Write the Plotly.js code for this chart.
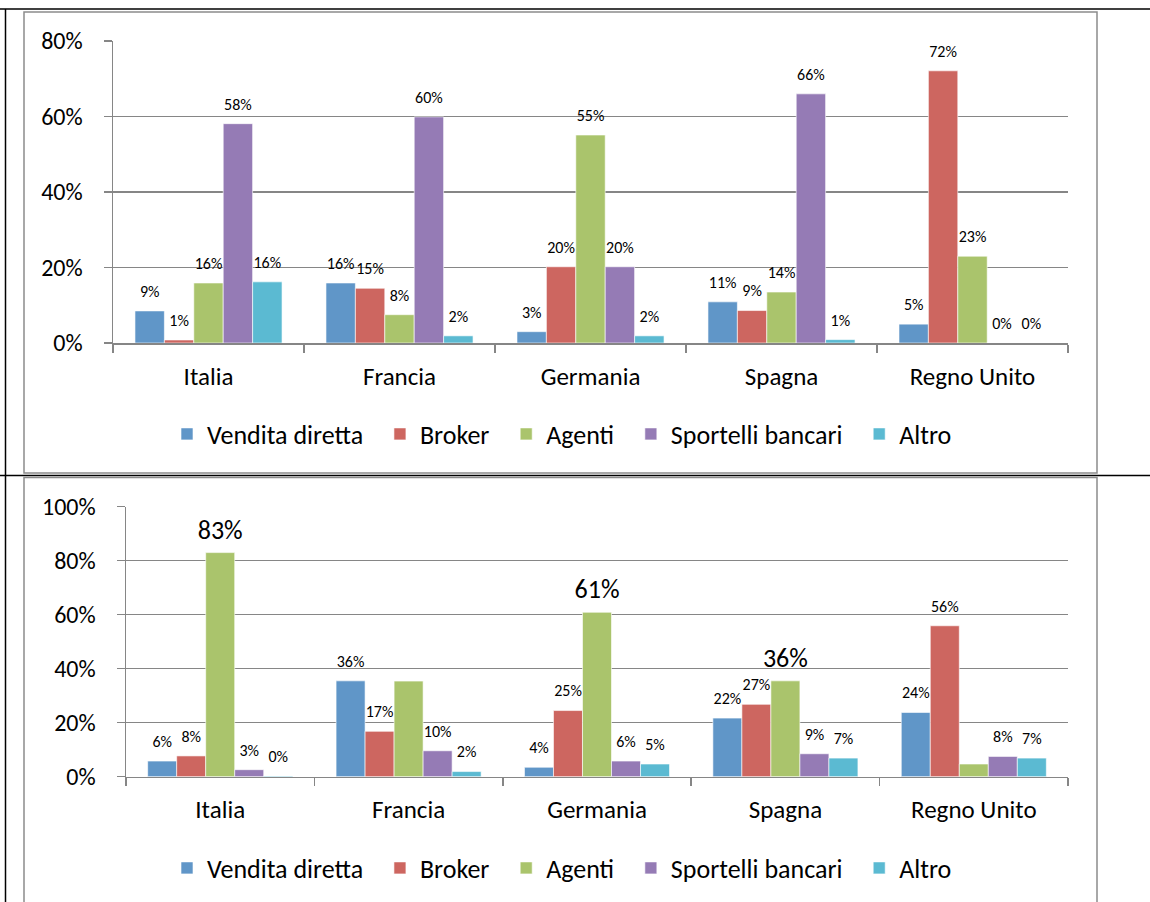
<!DOCTYPE html>
<html>
<head>
<meta charset="utf-8">
<script src="https://cdn.plot.ly/plotly-3.0.1.min.js"></script>
<style>
  html, body { margin: 0; padding: 0; background: #fff; }
  #chart { width: 1150px; height: 902px; }
</style>
</head>
<body>
<div id="chart"></div>
<script>
// ---------- DATA ----------
const categories = ["Italia", "Francia", "Germania", "Spagna", "Regno Unito"];
const seriesNames = ["Vendita diretta", "Broker", "Agenti", "Sportelli bancari", "Altro"];

// Top chart (%)
const top_vendita   = [8.5, 15.9, 3.0, 10.9, 5.0];
const top_broker    = [0.8, 14.5, 20.2, 8.6, 72.1];
const top_agenti    = [15.9, 7.5, 55.1, 13.5, 23.0];
const top_sportelli = [58.1, 59.9, 20.2, 66.0, 0.0];
const top_altro     = [16.2, 1.9, 1.9, 0.9, 0.0];

// Bottom chart (%)
const bot_vendita   = [5.8, 35.5, 3.5, 21.7, 23.8];
const bot_broker    = [7.7, 16.8, 24.5, 26.8, 55.9];
const bot_agenti    = [83.0, 35.4, 60.9, 35.5, 4.7];
const bot_sportelli = [2.6, 9.6, 5.8, 8.5, 7.5];
const bot_altro     = [0.3, 1.9, 4.7, 6.9, 6.9];

// Which labels are shown / enlarged in the bottom chart's "Agenti" series
const bot_agenti_labelShown = [true, false, true, true, false];
const bot_agenti_labelBig   = [true, false, true, true, false];

const colors = ["#6096C8", "#CD6660", "#AAC46C", "#957BB5", "#5BBAD2"];

// ---------- HELPERS ----------
const W = 1150, H = 902;
const px = x => x / W;
const py = y => 1 - y / H;
const FONT = "Carlito, Roboto, 'Open Sans', sans-serif";
const GRID = "#868686";
const NB = "\u00A0";

function pct(v) { return Math.round(v) + "%"; }
// label with a small empty line underneath, to lift it a little above the bar
function lbl(v, size) {
  return "<span style='font-size:" + size + "px'>" + pct(v) + "</span><br>" + NB;
}

function makeTrace(name, vals, i, xa, ya, leg, texts) {
  return {
    type: "bar",
    name: name + NB + NB,
    x: categories,
    y: vals,
    xaxis: xa,
    yaxis: ya,
    legend: leg,
    showlegend: true,
    marker: { color: colors[i], line: { color: "rgba(255,255,255,0.6)", width: 1 } },
    text: texts || vals.map(v => lbl(v, 16)),
    textposition: "outside",
    constraintext: "none",
    cliponaxis: false,
    textfont: { family: FONT, size: 7, color: "#000" },
    hoverinfo: "none"
  };
}

const topSeries = [top_vendita, top_broker, top_agenti, top_sportelli, top_altro];
const botSeries = [bot_vendita, bot_broker, bot_agenti, bot_sportelli, bot_altro];

const traces = [];
topSeries.forEach((s, i) => traces.push(makeTrace(seriesNames[i], s, i, "x", "y", "legend")));
botSeries.forEach((s, i) => {
  let texts;
  if (i === 2) {
    texts = s.map((v, k) => bot_agenti_labelShown[k] ? lbl(v, bot_agenti_labelBig[k] ? 26 : 16) : "");
  }
  traces.push(makeTrace(seriesNames[i], s, i, "x2", "y2", "legend2", texts));
});

function xAxis(domain, anchor) {
  return {
    domain: domain, anchor: anchor, type: "category",
    showline: true, linecolor: GRID, linewidth: 1.5,
    ticks: "outside", tickson: "boundaries", ticklen: 8, tickcolor: GRID, tickwidth: 1.5,
    tickfont: { family: FONT, size: 25, color: "#000" },
    ticklabelstandoff: 10,
    showgrid: false, fixedrange: true
  };
}
function yAxis(domain, anchor, range) {
  return {
    domain: domain, anchor: anchor, range: range, dtick: 20, ticksuffix: "%",
    showline: true, linecolor: GRID, linewidth: 1.5,
    ticks: "outside", ticklen: 8, tickcolor: GRID, tickwidth: 1.5,
    showgrid: true, gridcolor: GRID, gridwidth: 1.5, zeroline: false,
    tickfont: { family: FONT, size: 24, color: "#000" },
    ticklabelstandoff: 16, fixedrange: true
  };
}

const legendBase = {
  orientation: "h", xanchor: "center", yanchor: "middle",
  font: { family: FONT, size: 26, color: "#000" },
  bgcolor: "rgba(0,0,0,0)", itemclick: false, itemdoubleclick: false,
  traceorder: "normal", itemwidth: 30
};

const shapes = [
  // table lines (black)
  { type: "line", xref: "paper", yref: "paper", x0: px(0), x1: px(1150), y0: py(9), y1: py(9), line: { color: "#000", width: 1.5 } },
  { type: "line", xref: "paper", yref: "paper", x0: px(0), x1: px(1150), y0: py(475.5), y1: py(475.5), line: { color: "#000", width: 1.5 } },
  { type: "line", xref: "paper", yref: "paper", x0: px(5.5), x1: px(5.5), y0: py(9), y1: py(902), line: { color: "#000", width: 1.5 } },
  // chart frames (gray)
  { type: "rect", xref: "paper", yref: "paper", x0: px(24), x1: px(1097), y0: py(12), y1: py(473), line: { color: "#8c8c8c", width: 1.5 } },
  { type: "rect", xref: "paper", yref: "paper", x0: px(24), x1: px(1097), y0: py(477.5), y1: py(910), line: { color: "#8c8c8c", width: 1.5 } }
];

const layout = {
  width: W, height: H,
  margin: { l: 0, r: 0, t: 0, b: 0 },
  paper_bgcolor: "#fff", plot_bgcolor: "#fff",
  font: { family: FONT, color: "#000" },
  barmode: "group", bargap: 0.23, bargroupgap: 0,
  xaxis: xAxis([px(113), px(1068)], "y"),
  yaxis: yAxis([py(343), py(41)], "x", [0, 80]),
  xaxis2: xAxis([px(126), px(1068)], "y2"),
  yaxis2: yAxis([py(776.7), py(506.7)], "x2", [0, 100]),
  legend: Object.assign({}, legendBase, { x: px(568), y: py(434) }),
  legend2: Object.assign({}, legendBase, { x: px(568), y: py(868) }),
  shapes: shapes,
  hovermode: false
};

Plotly.newPlot("chart", traces, layout, { displayModeBar: false, staticPlot: true });
</script>
</body>
</html>
